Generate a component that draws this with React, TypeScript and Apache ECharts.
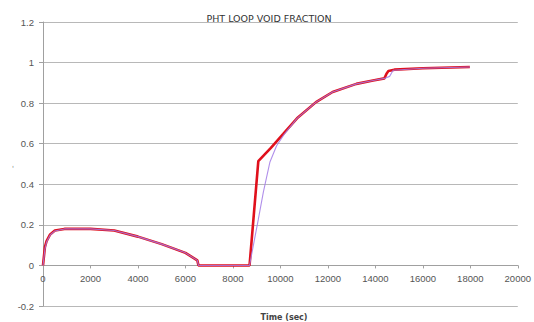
import React, { useEffect, useRef } from "react";
import * as echarts from "echarts";

const chartTitle = "PHT LOOP VOID FRACTION";
const xTitle = "Time (sec)";
const yTitle = "'";

// Red (thick) series
const redTime = [0, 80, 150, 300, 500, 900, 2000, 3000, 4000, 5000, 6000, 6500, 6550, 8700, 9070, 9600, 10120, 10700, 11500, 12200, 13200, 13900, 14380, 14470, 14550, 14800, 16000, 17980];
const redValue = [0, 0.09, 0.12, 0.153, 0.172, 0.18, 0.18, 0.172, 0.142, 0.105, 0.062, 0.025, 0, 0, 0.514, 0.58, 0.648, 0.725, 0.805, 0.855, 0.895, 0.912, 0.922, 0.945, 0.958, 0.965, 0.972, 0.978];

// Purple (thin) series
const purpleTime = [0, 80, 150, 300, 500, 900, 2000, 3000, 4000, 5000, 6000, 6500, 6550, 8700, 9070, 9280, 9560, 9840, 10150, 10700, 11500, 12200, 13200, 13900, 14380, 14600, 14750, 16000, 17980];
const purpleValue = [0, 0.08, 0.115, 0.15, 0.17, 0.18, 0.18, 0.172, 0.142, 0.105, 0.062, 0.025, 0, 0, 0.227, 0.36, 0.51, 0.59, 0.645, 0.725, 0.805, 0.855, 0.895, 0.912, 0.922, 0.932, 0.962, 0.972, 0.978];

const yMin = -0.2;
const yMax = 1.2;
const yStep = 0.2;
const xMin = 0;
const xMax = 20000;
const xStep = 2000;

export default function App() {
  const ref = useRef<HTMLDivElement>(null);
  useEffect(() => {
    if (!ref.current) return;
    const chart = echarts.init(ref.current, undefined, { renderer: "svg" });
    const pairs = (xs: number[], ys: number[]) => xs.map((x, i) => [x, ys[i]]);
    const gridTop = 22;
    const gridBottom = 16;
    const gridHeight = 322 - gridTop - gridBottom;
    const zeroOffset = (gridHeight * (0 - yMin)) / (yMax - yMin);
    chart.setOption({
      animation: false,
      backgroundColor: "#ffffff",
      title: [
        {
          text: chartTitle,
          left: 264,
          top: 8,
          textAlign: "center",
          textStyle: { fontFamily: "DejaVu Sans", fontSize: 9.5, fontWeight: "normal", color: "#333" },
        },
        {
          text: xTitle,
          left: 279,
          top: 308,
          textAlign: "center",
          textStyle: { fontFamily: "DejaVu Sans", fontSize: 8, fontWeight: "bold", color: "#444" },
        },
        {
          text: yTitle,
          left: 7,
          top: 160,
          textStyle: { fontFamily: "DejaVu Sans", fontSize: 7, fontWeight: "normal", color: "#777" },
        },
      ],
      grid: { left: 43, right: 16, top: gridTop, bottom: gridBottom, containLabel: false },
      xAxis: {
        type: "value",
        min: xMin,
        max: xMax,
        interval: xStep,
        position: "bottom",
        offset: -zeroOffset,
        axisLine: { show: true, onZero: false, lineStyle: { color: "#a0a0a0", width: 1 } },
        axisTick: { show: true, inside: false, length: 3, lineStyle: { color: "#a0a0a0" } },
        axisLabel: {
          fontFamily: "Liberation Sans",
          fontSize: 9.5,
          color: "#555",
          margin: 8,
          formatter: (v: number) => String(v),
        },
        splitLine: { show: false },
      },
      yAxis: {
        type: "value",
        min: yMin,
        max: yMax,
        interval: yStep,
        axisLine: { show: true, lineStyle: { color: "#a0a0a0", width: 1 } },
        axisTick: { show: true, length: 4, lineStyle: { color: "#a0a0a0" } },
        axisLabel: {
          fontFamily: "Liberation Sans",
          fontSize: 9.5,
          color: "#555",
          margin: 9,
          formatter: (v: number) => String(Math.round(v * 10) / 10),
        },
        splitLine: { show: true, lineStyle: { color: "#b8b8b8", width: 1 } },
      },
      series: [
        {
          type: "line",
          data: pairs(redTime, redValue),
          showSymbol: false,
          lineStyle: { color: "#e0101c", width: 2.6 },
          z: 2,
        },
        {
          type: "line",
          data: pairs(purpleTime, purpleValue),
          showSymbol: false,
          lineStyle: { color: "#a27be6", width: 1.1, opacity: 0.85 },
          z: 3,
        },
      ],
    });
    return () => chart.dispose();
  }, []);
  return <div ref={ref} style={{ width: 534, height: 322, position: "absolute", left: 0, top: 0 }} />;
}
